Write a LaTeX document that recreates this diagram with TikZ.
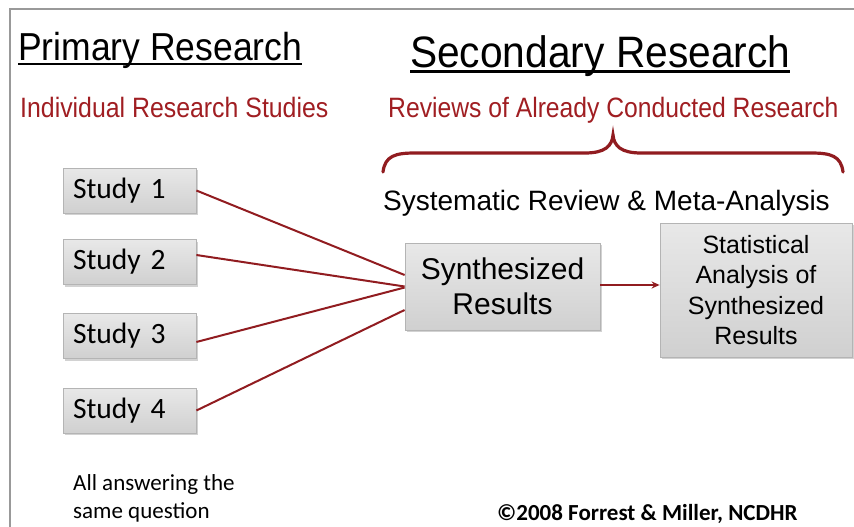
\documentclass[tikz,border=0pt]{standalone}
\usepackage{fontspec}
\usepackage{graphicx}
\setmainfont{Liberation Sans}
\newfontfamily\calfont{Carlito}
\usetikzlibrary{shadows,arrows.meta}
\definecolor{dred}{RGB}{160,30,34}
\definecolor{lred}{RGB}{145,28,32}
\definecolor{boxedge}{RGB}{180,180,180}
\definecolor{boxtop}{RGB}{232,232,232}
\definecolor{boxbot}{RGB}{208,208,208}
\tikzset{
  graybox/.style={draw=boxedge, line width=0.8pt, top color=boxtop, bottom color=boxbot,
    drop shadow={opacity=0.35, shadow xshift=1.5pt, shadow yshift=-2pt}},
  studybox/.style={graybox, minimum width=133pt, minimum height=45pt, text width=113pt,
    inner xsep=10pt, inner ysep=0pt, align=left, font=\calfont\fontsize{29.5}{32}\selectfont},
  conn/.style={lred, line width=2pt},
  redtxt/.style={dred, inner sep=0pt, anchor=base west},
  head/.style={inner sep=0pt, anchor=base west}
}
\begin{document}
\begin{tikzpicture}[x=1pt,y=-1pt]
\useasboundingbox (0,0) rectangle (854,527);
\fill[white] (0,0) rectangle (854,527);
% frame
\draw[black!40, line width=1.5pt] (10,527) -- (10,9) -- (854,9);
% headings
\node[head] (prim) at (18,60) {\fontsize{39}{42}\selectfont\scalebox{0.91}[1]{Primary Research}};
\draw[line width=2.5pt] ([yshift=-4pt]prim.base west) -- ([yshift=-4pt]prim.base east);
\node[head] (sec) at (410,67) {\fontsize{44}{46}\selectfont\scalebox{0.925}[1]{Secondary Research}};
\draw[line width=3pt] ([yshift=-5pt]sec.base west) -- ([yshift=-5pt]sec.base east);
% red subtitles
\node[redtxt] (ind) at (20,117) {\fontsize{28}{30}\selectfont\scalebox{0.888}[1]{Individual Research Studies}};
\node[redtxt] (rev) at (388,117) {\fontsize{28}{30}\selectfont\scalebox{0.882}[1]{Reviews of Already Conducted Research}};
% brace
\draw[lred, line width=3.2pt, line cap=round]
  (383,172) .. controls (385,156) and (395,153) .. (415,153) -- (585,153)
  .. controls (605,153) and (612,146) .. (613,135)
  .. controls (614,146) and (621,153) .. (641,153) -- (811,153)
  .. controls (831,153) and (841,156) .. (843,172);
% systematic review label
\node[head] (sys) at (383,210) {\fontsize{28}{30}\selectfont Systematic Review \& Meta-Analysis};
% study boxes
\node[studybox] (s1) at (129.5,190.5) {Study 1};
\node[studybox] (s2) at (129.5,262) {Study 2};
\node[studybox] (s3) at (129.5,336) {Study 3};
\node[studybox] (s4) at (129.5,410.5) {Study 4};
% synthesized
\node[graybox, minimum width=195pt, minimum height=87pt, inner sep=0pt, align=center,
  font=\fontsize{30}{35}\selectfont] (syn) at (502.5,286.5) {Synthesized\\Results};
\node[graybox, minimum width=192pt, minimum height=134pt, inner sep=0pt, align=center,
  font=\fontsize{25}{30.5}\selectfont] (stat) at (756,290) {Statistical\\Analysis of\\Synthesized\\Results};
% connectors
\draw[conn] (s1.east) -- ([yshift=11.5pt]syn.west);
\draw[conn] ([yshift=7pt]s2.east) -- ([yshift=0pt]syn.west);
\draw[conn] ([yshift=-6pt]s3.east) -- ([yshift=-1pt]syn.west);
\draw[conn] (s4.east) -- ([yshift=-23.5pt]syn.west);
\draw[conn, -{Stealth[length=8pt,width=7pt]}] ([yshift=1.5pt]syn.east) -- ([yshift=1.5pt]stat.west |- syn.east);
% bottom texts
\node[head, align=left, anchor=north west, font=\calfont\fontsize{23}{28}\selectfont] (ans) at (73,474) {All answering the\\same question};
\node[head, font=\calfont\bfseries\fontsize{23}{24}\selectfont] (copy) at (497,520) {©2008 Forrest \& Miller, NCDHR};
\end{tikzpicture}
\end{document}
